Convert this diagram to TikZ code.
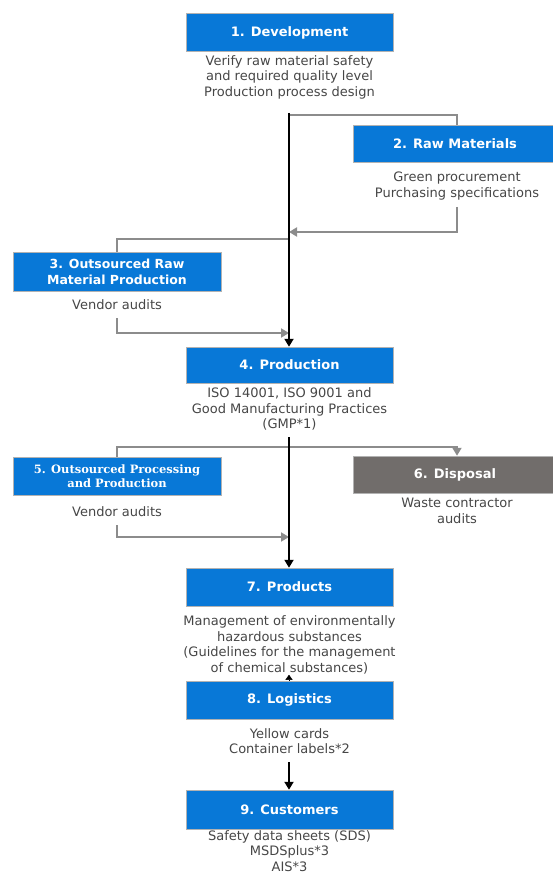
\documentclass[tikz,border=0pt]{standalone}
\usepackage{fontspec}
\setmainfont{DejaVu Sans}
\newfontfamily\boxserif{DejaVu Serif}
\usetikzlibrary{arrows.meta}
\definecolor{stepblue}{RGB}{8,120,215}
\definecolor{stepgray}{RGB}{113,109,107}
\definecolor{linegray}{RGB}{140,140,140}
\definecolor{txtgray}{RGB}{70,70,70}
\tikzset{
  stage/.style={fill=stepblue, draw=gray!60, line width=0.5pt, minimum width=207pt,
    minimum height=38pt, text=white, align=center, inner sep=2pt,
    font=\fontsize{13}{16}\selectfont\bfseries},
  sidestage/.style={stage, minimum width=208pt},
  note/.style={text=txtgray, align=center, inner sep=0pt,
    font=\fontsize{13}{15.5}\selectfont},
  mainflow/.style={line width=2.4pt, -{Triangle[length=8pt,width=9pt]}},
  sideflow/.style={draw=linegray, line width=1.8pt},
  sidearrow/.style={sideflow, -{Triangle[length=8pt,width=9pt]}, color=linegray}
}
\begin{document}
\begin{tikzpicture}[x=1pt,y=-1pt]
\useasboundingbox (0,0) rectangle (552,874);

\node[stage] (dev) at (289.5,32.5) {1. Development};
\node[note] (devtxt) at (289.5,77) {Verify raw material safety\\and required quality level\\Production process design};

\node[stage, minimum width=204pt, minimum height=37pt] (raw) at (455,143.5) {2. Raw Materials};
\node[note] (rawtxt) at (457,186) {Green procurement\\Purchasing specifications};

\node[sidestage, minimum height=39pt, font=\fontsize{12.5}{16}\selectfont\bfseries] (outraw) at (117,271.5) {3. Outsourced Raw\\Material Production};
\node[note] (outrawtxt) at (117,305) {Vendor audits};

\node[stage, minimum height=36pt] (prod) at (289.5,365) {4. Production};
\node[note] (prodtxt) at (289.5,409) {ISO 14001, ISO 9001 and\\Good Manufacturing Practices\\(GMP*1)};

\node[sidestage, font=\fontsize{11.5}{14}\selectfont\boxserif\bfseries] (outproc) at (117,476) {5. Outsourced Processing\\and Production};
\node[note] (outproctxt) at (117,512) {Vendor audits};

\node[stage, fill=stepgray, minimum width=204pt, minimum height=37pt] (disp) at (455,474.5) {6. Disposal};
\node[note] (disptxt) at (457,511) {Waste contractor\\audits};

\node[stage] (prods) at (289.5,587) {7. Products};
\node[note] (prodstxt) at (289.5,645) {Management of environmentally\\hazardous substances\\(Guidelines for the management\\of chemical substances)};

\node[stage] (logi) at (289.5,700) {8. Logistics};
\node[note] (logitxt) at (289.5,741) {Yellow cards\\Container labels*2};

\node[stage, minimum height=39pt] (cust) at (289.5,809.5) {9. Customers};
\node[note] (custtxt) at (289.5,851) {Safety data sheets (SDS)\\MSDSplus*3\\AIS*3};

\coordinate (top1) at (289,113);
\coordinate (top2) at (289,437);
\coordinate (top3) at (289,762);

\draw[sideflow] (289,115) -| (raw.north -| 457,0);
\draw[sidearrow] (457,207) |- (289,232);
\draw[sideflow] (289,239) -| (outraw.north);
\draw[sidearrow] (117,318) |- (289,333);

\draw[mainflow] (top1) -- (prod.north -| top1);

\draw[sideflow] (outproc.north) |- (289,447);
\draw[sidearrow] (289,447) -| (disp.north -| 457,0);
\draw[sidearrow] (117,525) |- (289,537);

\draw[mainflow] (top2) -- (prods.north -| top2);
\draw[-{Triangle[length=5pt,width=7pt]}] (logi.north -| 289,0) -- ++(0,-6);
\draw[mainflow] (top3) -- (cust.north -| top3);
\end{tikzpicture}
\end{document}
